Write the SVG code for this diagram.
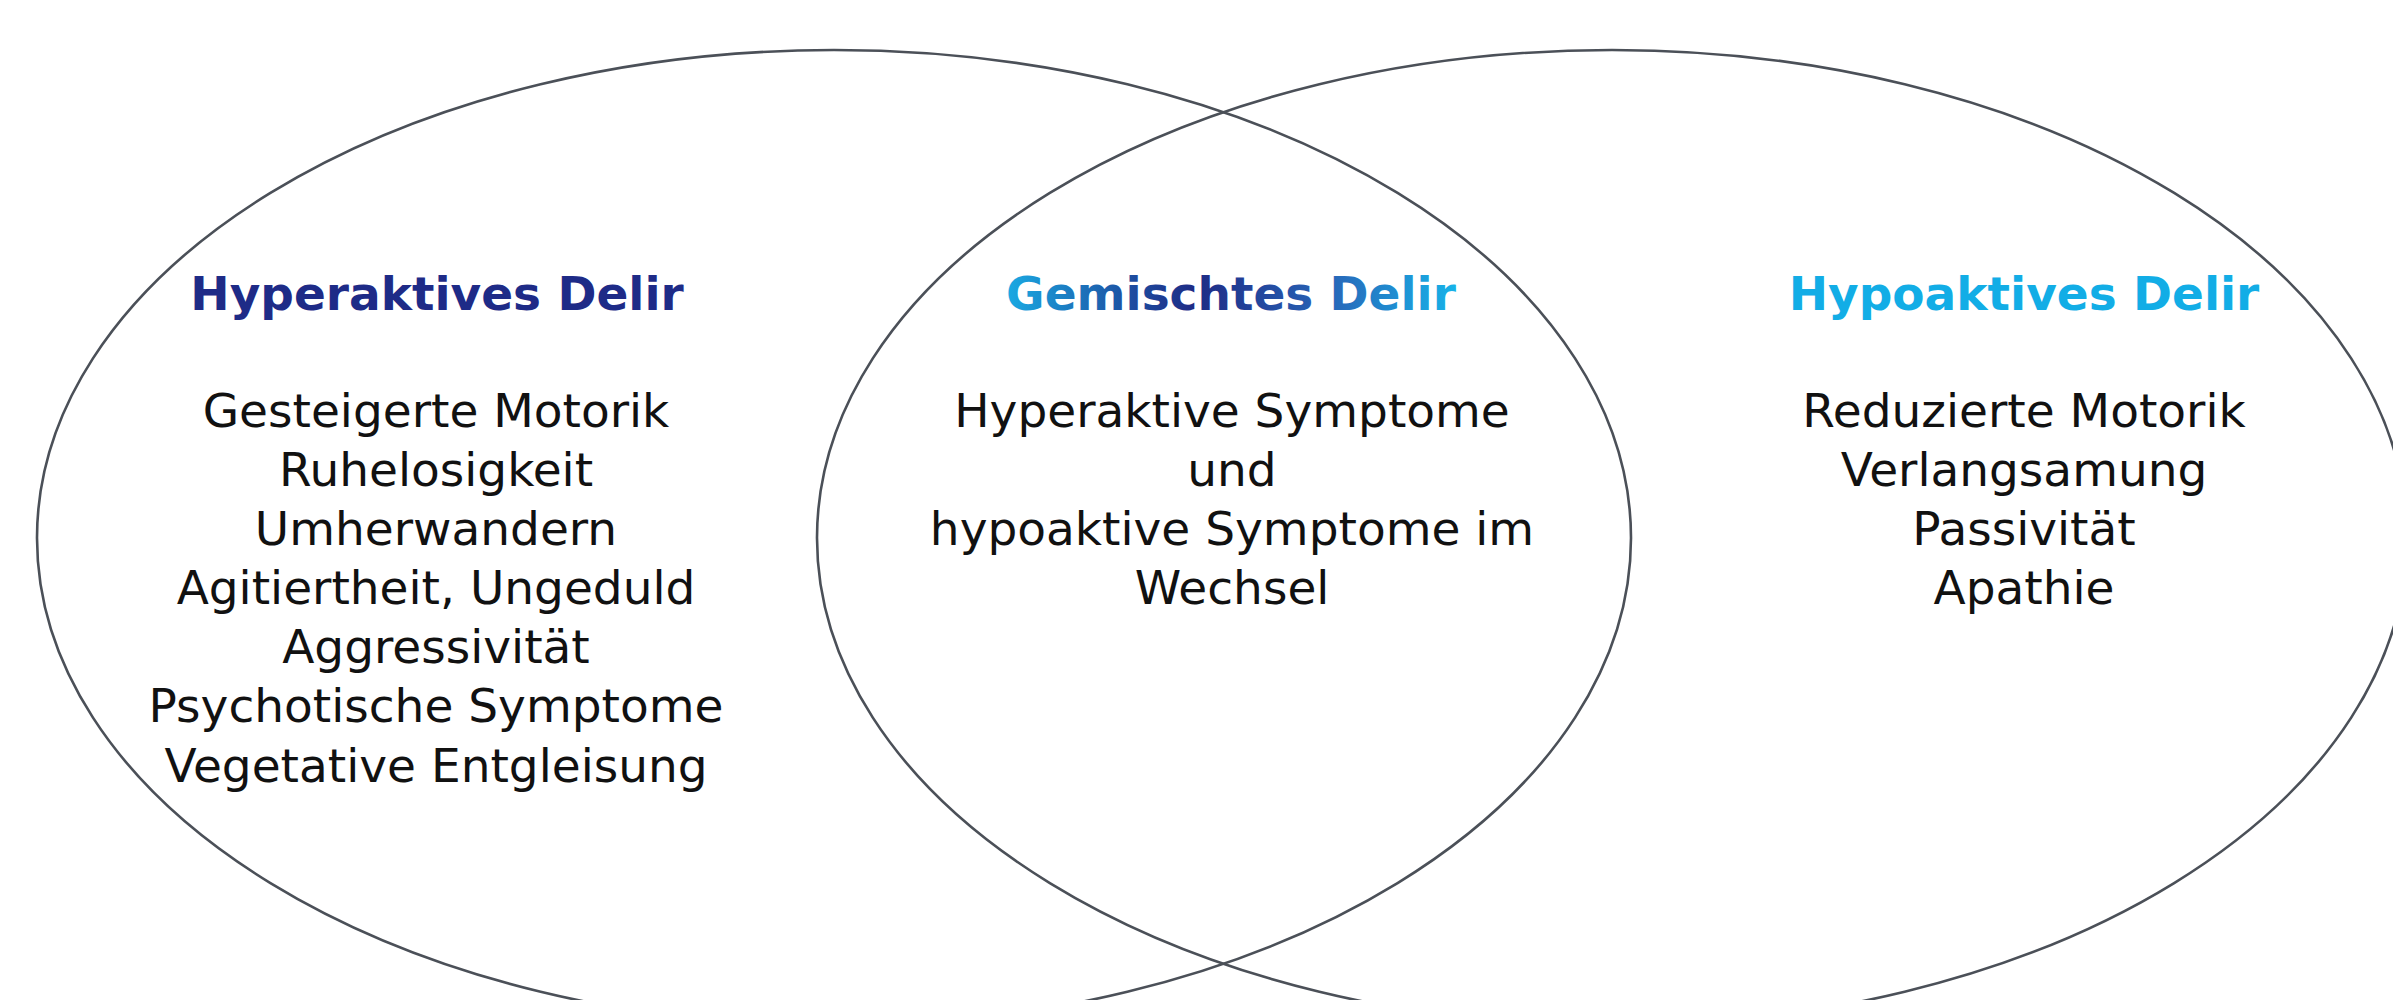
<svg xmlns="http://www.w3.org/2000/svg" width="2393" height="1000" viewBox="0 0 2393 1000">
<style>
.circle{fill:none;stroke:#4b5058;stroke-width:2.6}
.head{font-family:"DejaVu Sans",Verdana,sans-serif;font-weight:bold;font-size:47px;text-anchor:middle}
.body{font-family:"DejaVu Sans",Verdana,sans-serif;font-size:47px;text-anchor:middle;fill:#111}
</style>
<defs>
<linearGradient id="mixGrad" gradientUnits="userSpaceOnUse" x1="1008" y1="0" x2="1455" y2="0">
<stop offset="0" stop-color="#1aa9e2"/>
<stop offset="0.28" stop-color="#1d4c9f"/>
<stop offset="0.42" stop-color="#1e2b85"/>
<stop offset="0.72" stop-color="#2866b8"/>
<stop offset="1" stop-color="#17b2e8"/>
</linearGradient>
</defs>
<rect width="2393" height="1000" fill="#ffffff"/>
<g id="set-hyper">
<ellipse class="circle" cx="834" cy="538" rx="797" ry="488"/>
<text class="head" x="437" y="310" fill="#1e2b87">Hyperaktives Delir</text>
<text class="body" x="436" y="427">Gesteigerte Motorik</text>
<text class="body" x="436" y="486">Ruhelosigkeit</text>
<text class="body" x="436" y="545">Umherwandern</text>
<text class="body" x="436" y="604">Agitiertheit, Ungeduld</text>
<text class="body" x="436" y="663">Aggressivität</text>
<text class="body" x="436" y="722">Psychotische Symptome</text>
<text class="body" x="436" y="782">Vegetative Entgleisung</text>
</g>
<g id="set-hypo">
<ellipse class="circle" cx="1612" cy="538" rx="795" ry="488"/>
<text class="head" x="2024" y="310" fill="#12ade6">Hypoaktives Delir</text>
<text class="body" x="2024" y="427">Reduzierte Motorik</text>
<text class="body" x="2024" y="486">Verlangsamung</text>
<text class="body" x="2024" y="545">Passivität</text>
<text class="body" x="2024" y="604">Apathie</text>
</g>
<g id="mixed">
<text class="head" x="1231" y="310" fill="url(#mixGrad)">Gemischtes Delir</text>
<text class="body" x="1232" y="427">Hyperaktive Symptome</text>
<text class="body" x="1232" y="486">und</text>
<text class="body" x="1232" y="545">hypoaktive Symptome im</text>
<text class="body" x="1232" y="604">Wechsel</text>
</g>
<g id="connectors"></g>
</svg>
